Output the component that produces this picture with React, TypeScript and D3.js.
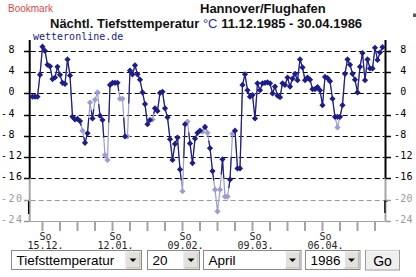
import React from 'react';
import * as d3 from 'd3';

const START = new Date(Date.UTC(1985, 11, 11));
const END = new Date(Date.UTC(1986, 3, 30));

// nightly minimum temperature per day, 11.12.1985 .. 30.04.1986
const minTemp = [
  -0.6, -0.6, -0.6, 3.5, 8.8, 8.0, 5.4, 5.1, 2.7, 3.0,
  5.0, 3.5, 2.0, 1.8, 6.4, 3.4, -4.4, -4.9, -4.8, -5.2,
  -7.0, -9.3, -7.5, -1.7, -4.7, -1.2, 0.2, -4.2, -5.0, -11.6,
  -12.5, 1.6, 2.0, 2.0, 2.0, -1.0, -1.0, -8.1, -8.1, 4.3,
  3.6, 5.3, 3.6, 2.6, 0.2, -2.0, -5.8, -5.0, -4.9, -2.8,
  -3.3, 0.1, 0.3, -2.8, -4.5, -8.6, -12.5, -9.5, -8.3, -14.3,
  -18.4, -5.8, -5.3, -9.4, -13.1, -8.5, -7.4, -7.0, -7.2, -6.3,
  -7.4, -10.3, -14.6, -18.1, -22.2, -18.1, -12.4, -19.4, -19.4, -16.2,
  -7.6, -7.0, -14.1, -14.1, 1.6, 3.6, 0.6, -0.6, -0.3, -4.7,
  1.9, 0.6, 1.9, 2.0, 2.1, 1.9, 0.0, 1.3, -0.4, -0.7,
  1.9, 1.6, 3.0, 1.3, 2.8, 3.7, 2.5, 6.4, 4.9, 2.5,
  3.0, 2.6, 0.8, 0.8, 1.2, 0.6, -2.2, 3.1, 2.9, 2.3,
  -1.0, -4.4, -4.4, -4.4, -2.2, 3.7, 6.4, 5.4, 3.7, 2.6,
  0.2, 5.0, 7.6, 2.5, 6.4, 4.7, 4.7, 8.6, 6.3, 7.7,
  8.7,
];

// 1 = value drawn in the light colour
const lightFlag = [
  0, 0, 0, 0, 0, 0, 0, 0, 0, 0,
  0, 0, 0, 0, 0, 0, 0, 0, 0, 0,
  1, 0, 0, 1, 0, 1, 1, 0, 0, 1,
  1, 0, 0, 0, 0, 1, 1, 0, 1, 0,
  0, 0, 0, 0, 0, 0, 0, 0, 1, 0,
  0, 0, 0, 0, 0, 0, 0, 0, 0, 0,
  1, 0, 1, 0, 0, 0, 0, 0, 1, 0,
  1, 0, 0, 1, 1, 1, 0, 1, 1, 0,
  1, 0, 0, 0, 0, 0, 0, 0, 0, 0,
  0, 0, 0, 0, 0, 0, 0, 0, 0, 0,
  0, 0, 0, 0, 0, 0, 0, 0, 0, 0,
  0, 0, 0, 0, 0, 0, 0, 0, 0, 0,
  0, 0, 0, 0, 0, 0, 0, 0, 0, 0,
  0, 0, 0, 0, 0, 0, 0, 0, 0, 0,
  0,
];

const extraLightDay = [122];
const extraLightTemp = [-6.4];

const yTicks = [8, 4, 0, -4, -8, -12, -16, -20, -24];
const grayTicks = [-20, -24];

const title1 = 'Hannover/Flughafen';
const title2a = 'Nächtl. Tiefsttemperatur ';
const title2unit = '°C';
const title2b = ' 11.12.1985 - 30.04.1986';
const sourceLabel = 'wetteronline.de';
const bookmarkLabel = 'Bookmark';
const weekdayLabel = 'So';
const selectLabels = ['Tiefsttemperatur', '20', 'April', '1986'];
const buttonLabel = 'Go';

const DARK = '#1c1c8a';
const LIGHT = '#9c9cd2';
const GRAY = '#a4a4a4';

function diamond(cx: number, cy: number, r: number) {
  return `M${cx},${cy - r}L${cx + r},${cy}L${cx},${cy + r}L${cx - r},${cy}Z`;
}

function SelectBox({ x, w, label }: { x: number; w: number; label: string }) {
  const y = 250.5;
  const h = 19;
  const bx = x + w - 15.5;
  const by = y + 1.5;
  const bw = 14;
  const bh = 16;
  const cx = bx + bw / 2;
  const cy = by + bh / 2;
  return (
    <g>
      <rect x={x} y={y} width={w} height={h} fill="#fff" stroke="#8a8a8a" strokeWidth={1} />
      <rect x={bx} y={by} width={bw} height={bh} fill="#e4e1dc" stroke="#b8b4ae" strokeWidth={1} />
      <line x1={bx} y1={by} x2={bx + bw} y2={by} stroke="#fff" />
      <line x1={bx} y1={by} x2={bx} y2={by + bh} stroke="#fff" />
      <path d={`M${cx - 3.5},${cy - 1.5}L${cx + 3.5},${cy - 1.5}L${cx},${cy + 2}Z`} fill="#000" />
      <text x={x + 5} y={265} fontFamily="Liberation Sans, Arial, sans-serif" fontSize={13.5} fill="#000">
        {label}
      </text>
    </g>
  );
}

export default function App() {
  const dates = d3.utcDay.range(START, d3.utcDay.offset(END, 1));
  const x = d3.scaleUtc().domain([START, END]).range([32.5, 382.5]);
  const y = d3.scaleLinear().domain([-24, 10]).range([221, 40.3]);

  const pts = dates.map((d, i) => ({ x: x(d), y: y(minTemp[i]), light: lightFlag[i] === 1 }));
  const lightVals = minTemp.map((v, i) => {
    const k = extraLightDay.indexOf(i);
    return k >= 0 ? extraLightTemp[k] : v;
  });
  const lightLine = d3
    .line<number>()
    .x((_, i) => x(dates[i]))
    .y((v) => y(v))(lightVals) as string;

  const darkSegs: string[] = [];
  for (let i = 0; i < pts.length - 1; i++) {
    const a = pts[i];
    const b = pts[i + 1];
    const mx = (a.x + b.x) / 2;
    const my = (a.y + b.y) / 2;
    if (!a.light && !b.light) darkSegs.push(`M${a.x},${a.y}L${b.x},${b.y}`);
    else if (!a.light && b.light) darkSegs.push(`M${a.x},${a.y}L${mx},${my}`);
    else if (a.light && !b.light) darkSegs.push(`M${mx},${my}L${b.x},${b.y}`);
  }

  const lightPts = [
    ...pts.filter((p) => p.light),
    ...extraLightDay.map((d, k) => ({ x: x(dates[d]), y: y(extraLightTemp[k]), light: true })),
  ];
  const darkPts = pts.filter((p) => !p.light);

  const sundays = d3.utcSunday.range(START, d3.utcDay.offset(END, 1));
  const fmt = d3.utcFormat('%d.%m.');

  const yTop = 40;
  const yBlackEnd = y(-16);
  const yBottom = y(-24);
  const leftX = 29.7;
  const rightX = 385.5;

  const mono = 'DejaVu Sans Mono, monospace';

  return (
    <svg width={416} height={277} style={{ position: 'absolute', left: 0, top: 0 }}>
      <rect x={0} y={0} width={416} height={277} fill="#fff" />

      {/* titles */}
      <text x={8} y={11.5} fontFamily="Liberation Sans, Arial, sans-serif" fontSize={10} fill="#e04848">
        {bookmarkLabel}
      </text>
      <text x={200} y={13} fontFamily="Liberation Sans, Arial, sans-serif" fontSize={13} fontWeight="bold" fill="#111">
        {title1}
      </text>
      <text x={50} y={27.5} fontFamily="Liberation Sans, Arial, sans-serif" fontSize={13} fontWeight="bold" fill="#111">
        {title2a}
        <tspan fontWeight="normal" fill="#2a2ab4">{title2unit}</tspan>
        {title2b}
      </text>
      <text x={33} y={39.5} fontFamily={mono} fontSize={10} fill="#1a1a8a">
        {sourceLabel}
      </text>
      <rect x={413} y={13.5} width={3} height={3.5} fill="#555" />

      {/* gridlines */}
      {yTicks
        .filter((v) => v !== -24)
        .map((v) => {
          const gy = Math.round(y(v)) + 0.5;
          return (
            <line
              key={'g' + v}
              x1={leftX + 1}
              x2={rightX - 1}
              y1={gy}
              y2={gy}
              stroke={grayTicks.includes(v) ? '#999' : '#000'}
              strokeWidth={1}
              strokeDasharray="5,3"
            />
          );
        })}
      <line x1={leftX} x2={rightX} y1={yBottom + 0.5} y2={yBottom + 0.5} stroke={GRAY} strokeWidth={1} />

      {/* axes */}
      <line x1={leftX} x2={leftX} y1={yTop} y2={yBlackEnd} stroke="#000" strokeWidth={2} />
      <line x1={leftX} x2={leftX} y1={yBlackEnd} y2={yBottom} stroke={GRAY} strokeWidth={2} />
      <line x1={28.6} x2={28.6} y1={201} y2={214} stroke="#000" strokeWidth={1.3} />
      <line x1={rightX} x2={rightX} y1={yTop} y2={yBlackEnd} stroke="#000" strokeWidth={2} />
      <line x1={rightX} x2={rightX} y1={yBlackEnd} y2={yBottom} stroke={GRAY} strokeWidth={2} />
      <path d={`M${rightX + 2},201H${rightX - 0.6}V213`} fill="none" stroke="#000" strokeWidth={1.3} />

      {yTicks.map((v) => {
        const gy = Math.round(y(v)) + 0.5;
        const col = grayTicks.includes(v) ? '#9a9a9a' : '#000';
        const s = String(v);
        const lAdv = 7.5;
        const rAdv = 6.2;
        return (
          <g key={'t' + v}>
            <line x1={24} x2={leftX} y1={gy} y2={gy} stroke={col} strokeWidth={1.5} />
            <line x1={rightX} x2={391} y1={gy} y2={gy} stroke={col} strokeWidth={1.5} />
            <text
              x={1 + (s.length < 2 ? lAdv : 0)}
              y={gy + 1.5}
              fontFamily={mono}
              fontSize={10}
              letterSpacing={1.45}
              fill={col}
            >
              {s}
            </text>
            <text
              x={394 + (s.length < 2 ? rAdv : 0)}
              y={gy + 1.5}
              fontFamily={mono}
              fontSize={10}
              letterSpacing={0.2}
              fill={col}
            >
              {s}
            </text>
          </g>
        );
      })}

      {/* x ticks */}
      {sundays.map((d, i) => (
        <line key={'xt' + i} x1={x(d)} x2={x(d)} y1={222} y2={231} stroke={GRAY} strokeWidth={2} />
      ))}
      {sundays
        .filter((_, i) => i % 4 === 0)
        .map((d, i) => (
          <text key={'xl' + i} textAnchor="middle" fontFamily={mono} fontSize={10} fill="#222">
            <tspan x={x(d) + 3} y={239.5}>
              {weekdayLabel}
            </tspan>
            <tspan x={x(d) + 3} y={249}>
              {fmt(d)}
            </tspan>
          </text>
        ))}

      {/* light series */}
      <path d={lightLine} fill="none" stroke={LIGHT} strokeWidth={1.2} />
      {lightPts.map((p, i) => (
        <path key={'lp' + i} d={diamond(p.x, p.y, 3.1)} fill={LIGHT} />
      ))}
      {/* dark series */}
      <path d={darkSegs.join('')} fill="none" stroke={DARK} strokeWidth={1.2} />
      {darkPts.map((p, i) => (
        <path key={'dp' + i} d={diamond(p.x, p.y, 3.1)} fill={DARK} />
      ))}

      {/* form controls */}
      <SelectBox x={11.5} w={130} label={selectLabels[0]} />
      <SelectBox x={147.5} w={52} label={selectLabels[1]} />
      <SelectBox x={203.5} w={97.5} label={selectLabels[2]} />
      <SelectBox x={305.5} w={54.5} label={selectLabels[3]} />
      <g>
        <rect x={365.5} y={250.5} width={34} height={19.5} fill="#efefed" stroke="#9a9a9a" />
        <line x1={366} y1={251} x2={399} y2={251} stroke="#fff" />
        <text
          x={382.5}
          y={265.5}
          textAnchor="middle"
          fontFamily="Liberation Sans, Arial, sans-serif"
          fontSize={14}
          fill="#000"
        >
          {buttonLabel}
        </text>
      </g>
    </svg>
  );
}
